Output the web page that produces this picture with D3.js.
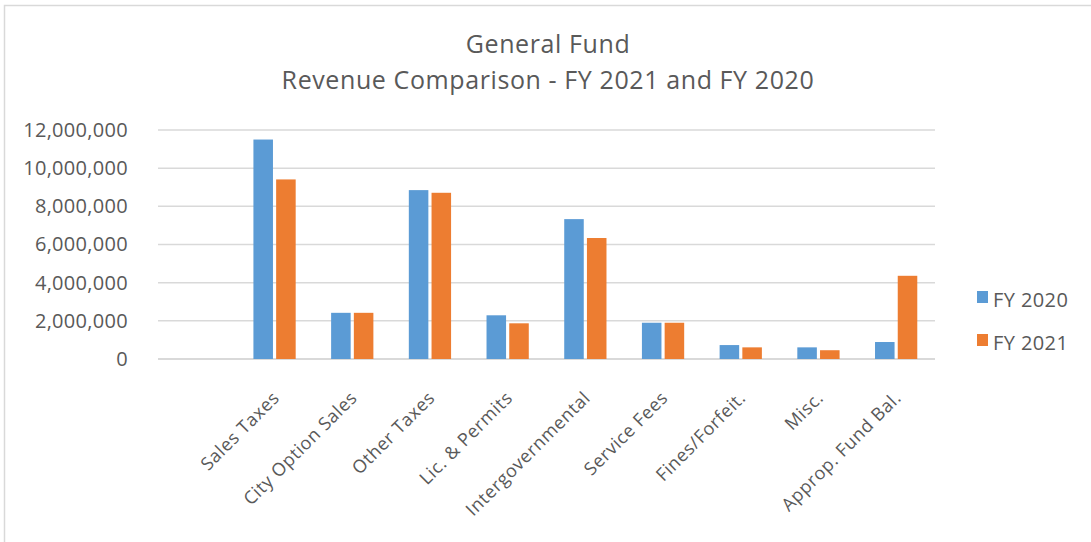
<!DOCTYPE html>
<html lang="en">
<head>
<meta charset="utf-8">
<title>General Fund Revenue Comparison</title>
<script src="https://cdn.jsdelivr.net/npm/d3@7"></script>
<style>
  body { margin: 0; background: #fff; }
  text { font-family: "Open Sans", sans-serif; fill: #595959; }
</style>
</head>
<body>
<script>
var w = 1091, h = 542;

// first slot is empty in the original chart
var categories = ["", "Sales Taxes", "City Option Sales", "Other Taxes", "Lic. & Permits",
  "Intergovernmental", "Service Fees", "Fines/Forfeit.", "Misc.", "Approp. Fund Bal."];
var fy2020 = [null, 11500000, 2420000, 8850000, 2290000, 7330000, 1900000, 730000, 610000, 890000];
var fy2021 = [null, 9410000, 2420000, 8710000, 1870000, 6340000, 1900000, 610000, 460000, 4360000];
var seriesNames = ["FY 2020", "FY 2021"];
var colors = ["#5b9bd5", "#ed7d31"];
var yTicks = [0, 2000000, 4000000, 6000000, 8000000, 10000000, 12000000];

var margin = {left: 158, right: 156, top: 130, bottom: 183};

var svg = d3.select("body").append("svg")
    .attr("width", w)
    .attr("height", h);

// chart border (only top and left visible)
svg.append("path")
    .attr("d", "M4.5," + h + "V5.5H" + w)
    .attr("fill", "none")
    .attr("stroke", "#d9d9d9")
    .attr("stroke-width", 1.5);

var x = d3.scaleBand()
    .domain(categories.map(function (d, i) { return i; }))
    .range([margin.left, w - margin.right]);

var x1 = d3.scaleBand()
    .domain([0, 1])
    .range([0, x.bandwidth()])
    .paddingInner(0.14)
    .paddingOuter(0.78);

var y = d3.scaleLinear()
    .domain([0, 12000000])
    .range([h - margin.bottom, margin.top]);

// gridlines
svg.append("g")
    .selectAll("line")
    .data(yTicks)
    .enter()
    .append("line")
    .attr("x1", margin.left)
    .attr("x2", w - margin.right)
    .attr("y1", function (d) { return y(d); })
    .attr("y2", function (d) { return y(d); })
    .attr("stroke", "#d9d9d9")
    .attr("stroke-width", function (d) { return d === 0 ? 2 : 1.5; });

// y axis labels
var yAxis = svg.append("g")
    .attr("transform", "translate(" + (margin.left - 30) + ",0)")
    .call(d3.axisLeft(y).tickValues(yTicks).tickSize(0).tickPadding(0).tickFormat(d3.format(",")));
yAxis.select(".domain").remove();
yAxis.selectAll("text")
    .attr("font-size", "20px")
    .attr("font-family", "Open Sans, sans-serif")
    .attr("fill", "#595959")
    .attr("letter-spacing", "0.3px");

// bars
var data = [fy2020, fy2021];
data.forEach(function (vals, s) {
    svg.append("g")
        .selectAll("rect")
        .data(vals.map(function (v, i) { return {i: i, v: v}; }).filter(function (d) { return d.v !== null; }))
        .enter()
        .append("rect")
        .attr("x", function (d) { return x(d.i) + x1(s); })
        .attr("width", x1.bandwidth())
        .attr("y", function (d) { return y(d.v); })
        .attr("height", function (d) { return y(0) - y(d.v); })
        .attr("fill", colors[s]);
});

// x axis labels, rotated
var xAxis = svg.append("g")
    .attr("transform", "translate(" + (x.bandwidth() / 2) + "," + y(0) + ")")
    .call(d3.axisBottom(x).tickSize(0).tickFormat(function (i) { return categories[i]; }).offset(0));
xAxis.select(".domain").remove();
xAxis.selectAll("text")
    .attr("font-size", "18px")
    .attr("font-family", "Open Sans, sans-serif")
    .attr("fill", "#595959")
    .attr("letter-spacing", "0.6px")
    .attr("text-anchor", "end")
    .attr("y", 0)
    .attr("dy", 0)
    .attr("transform", "translate(" + (6 - x.bandwidth() / 2) + ",40) rotate(-45)");

// title
var title = svg.append("text")
    .attr("text-anchor", "middle")
    .attr("font-size", "25px")
    .attr("letter-spacing", "0.6px");
title.append("tspan").attr("x", 548).attr("y", 53).text("General Fund");
title.append("tspan").attr("x", 548).attr("y", 89).text("Revenue Comparison - FY 2021 and FY 2020");

// legend
var legend = svg.append("g")
    .selectAll("g")
    .data(seriesNames)
    .enter()
    .append("g")
    .attr("transform", function (d, i) { return "translate(977," + (291 + i * 43) + ")"; });
legend.append("rect")
    .attr("width", 11)
    .attr("height", 12)
    .attr("fill", function (d, i) { return colors[i]; });
legend.append("text")
    .attr("x", 16)
    .attr("y", 16)
    .attr("font-size", "20px")
    .attr("letter-spacing", "0.4px")
    .text(function (d) { return d; });
</script>
</body>
</html>
